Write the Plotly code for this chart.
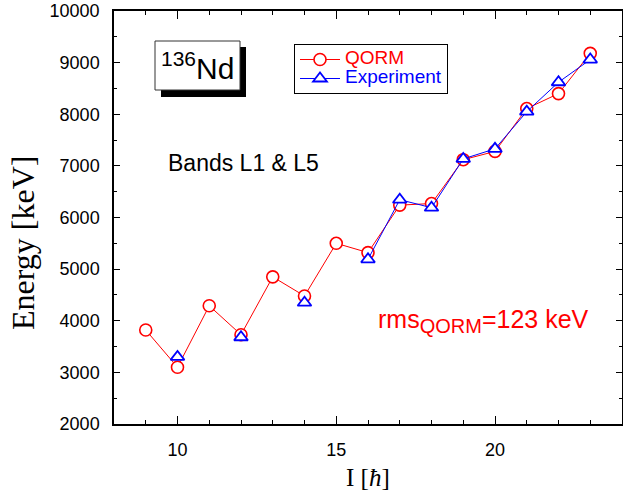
import plotly.graph_objects as go

# ---- data ----
spin = [9, 10, 11, 12, 13, 14, 15, 16, 17, 18, 19, 20, 21, 22, 23]
energy_qorm = [3820, 3100, 4290, 3730, 4850, 4480, 5500, 5320, 6240, 6270, 7120, 7280, 8110, 8400, 9180]
energy_exp = [None, 3300, None, 3680, None, 4350, None, 5190, 6345, 6190, 7135, 7330, 8050, 8620, 9060]

W, H = 623, 495
L, R, T, B = 114, 1, 11, 71
PW, PH = W - L - R, H - T - B


def px(x):
    return (x - L) / PW


def py(y):
    return (H - B - y) / PH


fig = go.Figure()

fig.add_trace(go.Scatter(
    x=spin, y=energy_qorm, mode="lines+markers",
    name='<span style="color:#ff0000;font-size:19px">QORM</span>',
    line=dict(color="#ff0000", width=1),
    marker=dict(symbol="circle", size=12, color="white",
                line=dict(color="#ff0000", width=1.6)),
))
fig.add_trace(go.Scatter(
    x=spin, y=energy_exp, mode="lines+markers",
    name='<span style="color:#0000ff;font-size:19px">Experiment</span>',
    connectgaps=False,
    line=dict(color="#0000ff", width=1),
    marker=dict(symbol="triangle-up", size=12, color="white",
                line=dict(color="#0000ff", width=1.8)),
))

axis_font = dict(family="Liberation Sans, Arial", size=18, color="black")

fig.update_layout(
    width=W, height=H, autosize=False,
    margin=dict(l=L, r=R, t=T, b=B, pad=0),
    paper_bgcolor="white", plot_bgcolor="white",
    font=dict(family="Liberation Sans, Arial", color="black"),
    xaxis=dict(
        range=[8, 24], tickmode="array", tickvals=[10, 15, 20], automargin=False,
        ticks="inside", ticklen=8, tickwidth=1.3, tickcolor="black",
        minor=dict(dtick=1, tick0=8, ticks="inside", ticklen=4, tickwidth=1.3, tickcolor="black"),
        showline=True, mirror="ticks", linecolor="black", linewidth=1.5,
        showgrid=False, zeroline=False,
        tickfont=axis_font, ticklabelstandoff=9,
    ),
    yaxis=dict(
        range=[2000, 10000], dtick=1000, tickformat="d", automargin=False,
        ticks="inside", ticklen=6, tickwidth=1.3, tickcolor="black",
        minor=dict(dtick=500, ticks="inside", ticklen=3, tickwidth=1.3, tickcolor="black"),
        showline=True, mirror="ticks", linecolor="black", linewidth=1.5,
        showgrid=False, zeroline=False,
        tickfont=axis_font, ticklabelstandoff=9,
    ),
    legend=dict(
        x=px(294), y=py(44), xanchor="left", yanchor="top",
        bgcolor="white", bordercolor="black", borderwidth=1,
        font=dict(family="Liberation Sans, Arial", size=12),
        itemwidth=40, tracegroupgap=0,
    ),
    showlegend=True,
)

# 136Nd label box with shadow
fig.add_shape(type="rect", xref="paper", yref="paper",
              x0=px(161), x1=px(246), y0=py(97), y1=py(47),
              fillcolor="black", line=dict(width=0))
fig.add_shape(type="rect", xref="paper", yref="paper",
              x0=px(155), x1=px(240), y0=py(90), y1=py(41),
              fillcolor="white", line=dict(color="#333333", width=1))

annotations = [
    dict(text="<sup>136</sup>Nd", x=px(197), y=py(66), xref="paper", yref="paper",
         xanchor="center", yanchor="middle", showarrow=False,
         font=dict(family="Liberation Sans, Arial", size=30, color="black")),
    dict(text="Bands L1 &amp; L5", x=px(243), y=py(163), xref="paper", yref="paper",
         xanchor="center", yanchor="middle", showarrow=False,
         font=dict(family="Liberation Sans, Arial", size=23, color="black")),
    dict(text='rms<sub><span style="font-size:20px">QORM</span></sub>=123 keV',
         x=px(483), y=py(321), xref="paper", yref="paper",
         xanchor="center", yanchor="middle", showarrow=False,
         font=dict(family="Liberation Sans, Arial", size=25, color="#ff0000")),
    dict(text="Energy [keV]", x=px(23), y=py(243), xref="paper", yref="paper",
         xanchor="center", yanchor="middle", showarrow=False, textangle=-90,
         font=dict(family="Liberation Serif, Times New Roman", size=32, color="black")),
    dict(text="I [<i>ħ</i>]", x=px(368), y=py(477), xref="paper", yref="paper",
         xanchor="center", yanchor="middle", showarrow=False,
         font=dict(family="Liberation Serif, Times New Roman", size=25, color="black")),
]
fig.update_layout(annotations=annotations)

fig.write_html("out.html")
